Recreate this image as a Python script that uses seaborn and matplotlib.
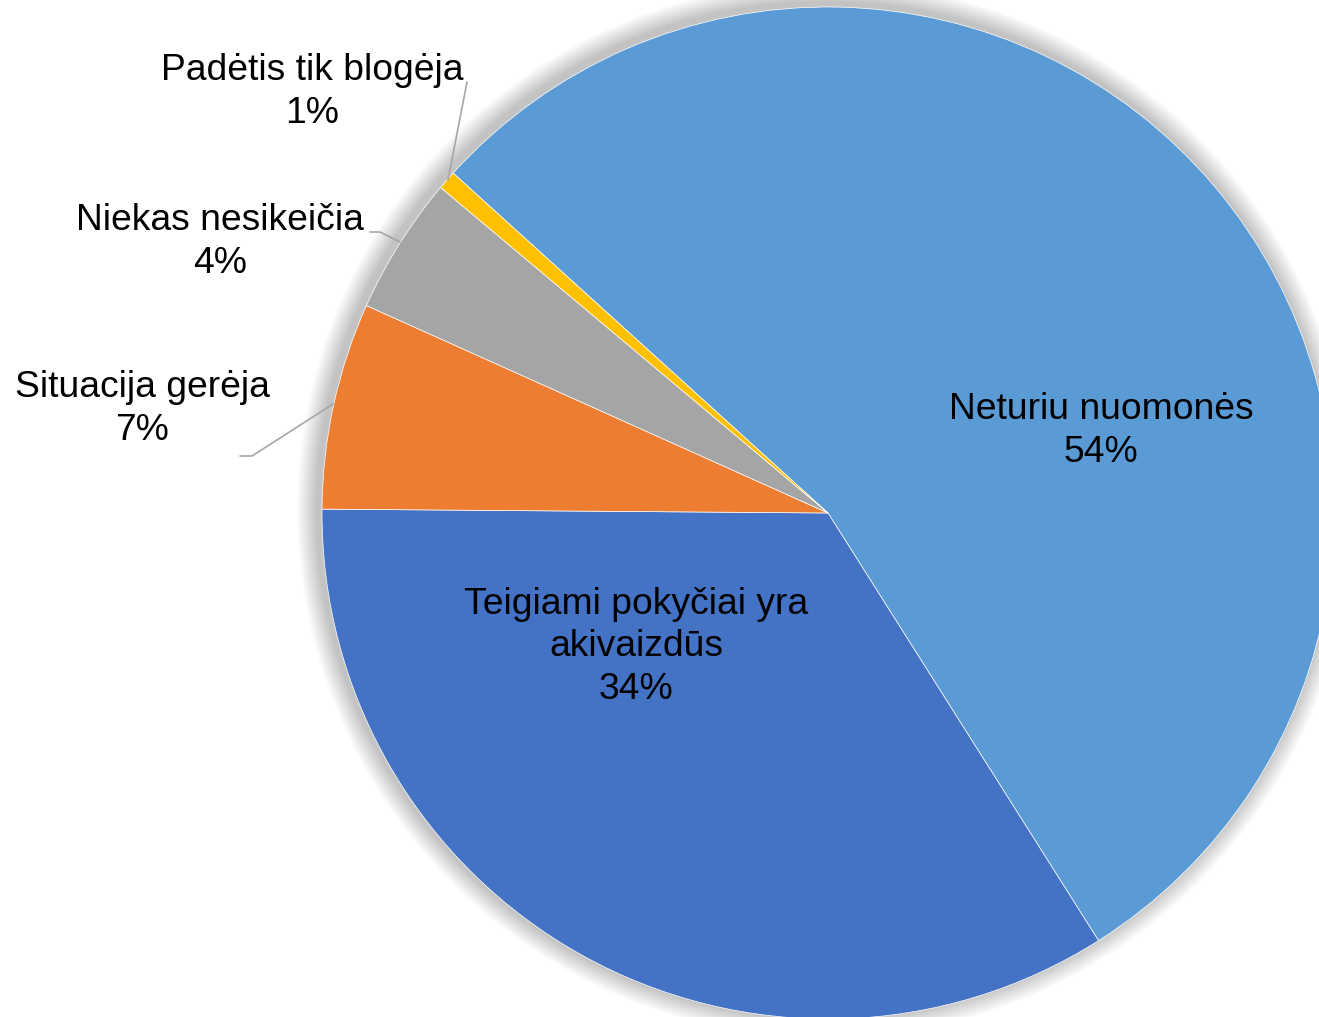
import matplotlib.pyplot as plt
import matplotlib.patches as mpatches
import seaborn as sns

# slices, clockwise from the top-left boundary
labels = ['Neturiu nuomonės', 'Teigiami pokyčiai yra\nakivaizdūs', 'Situacija gerėja',
          'Niekas nesikeičia', 'Padėtis tik blogėja']
shares = [54.3, 34.1, 6.6, 4.4, 0.6]
pct_labels = ['54%', '34%', '7%', '4%', '1%']
colors = ['#5B9BD5', '#4472C4', '#ED7D31', '#A5A5A5', '#FFC000']

sns.set_theme(style="white")
plt.rcParams['font.family'] = ['Liberation Sans', 'DejaVu Sans']
plt.rcParams['text.color'] = 'black'

W, H = 1319, 1017
fig = plt.figure(figsize=(W / 100, H / 100), dpi=100)
ax = fig.add_axes([0, 0, 1, 1])
ax.set_xlim(0, W)
ax.set_ylim(0, H)
ax.set_aspect('equal')
ax.axis('off')

cx, cy, r = 828, H - 513, 506

# soft shadow around the pie
for i in range(20):
    ax.add_patch(mpatches.Circle((cx - 3, cy + 3), r + 22 - i, color='black',
                                 alpha=0.01, lw=0, zorder=0))

wedges, _ = ax.pie(shares, colors=colors, startangle=137.8, counterclock=False,
                   center=(cx, cy), radius=r, frame=True,
                   wedgeprops=dict(linewidth=0.5, edgecolor='white'))
ax.set_xlim(0, W)
ax.set_ylim(0, H)
ax.axis('off')

fs = 26.8
ls = 1.27
# inside labels
ax.text(1101, H - 431, f'{labels[0]}\n{pct_labels[0]}', ha='center', va='center',
        fontsize=fs, linespacing=ls, color='black')
ax.text(636, H - 647, f'{labels[1]}\n{pct_labels[1]}', ha='center', va='center',
        fontsize=fs, linespacing=ls, color='black')

# outside labels with leader lines
outside = [
    (2, (142, 409), [(333, 404), (252, 456), (240, 456)]),
    (3, (220, 242), [(400, 242), (380, 232), (370, 232)]),
    (4, (312, 92), [(448, 180), (467, 82)]),
]
for idx, (tx, ty), pts in outside:
    ax.text(tx, H - ty, f'{labels[idx]}\n{pct_labels[idx]}', ha='center', va='center',
            fontsize=fs, linespacing=ls, color='black')
    ax.plot([p[0] for p in pts], [H - p[1] for p in pts], color='#A6A6A6', lw=1.2)

fig.savefig('out.png', dpi=100)
